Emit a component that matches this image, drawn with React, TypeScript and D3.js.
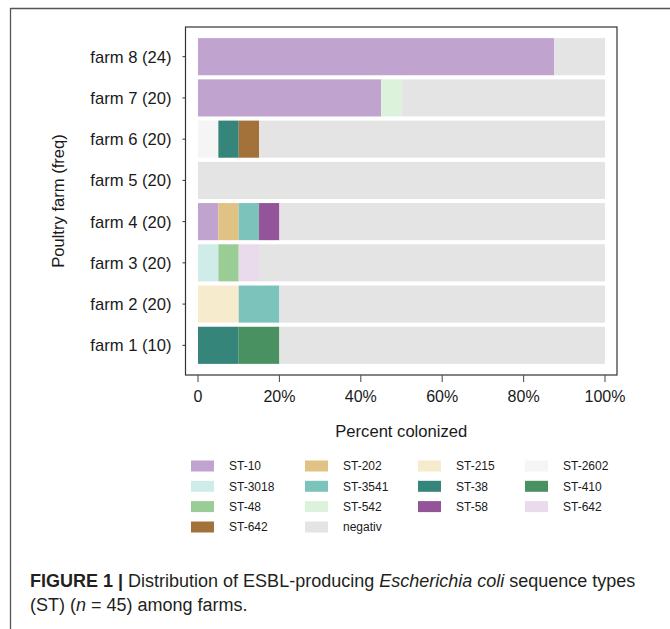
import React from "react";
import * as d3 from "d3";

const farms = ["farm 1 (10)", "farm 2 (20)", "farm 3 (20)", "farm 4 (20)", "farm 5 (20)", "farm 6 (20)", "farm 7 (20)", "farm 8 (24)"];
const seriesKeys = ["ST-10", "ST-202", "ST-215", "ST-2602", "ST-3018", "ST-3541", "ST-38", "ST-410", "ST-48", "ST-542", "ST-58", "ST-642a", "ST-642b", "negativ"];
const seriesLabels = ["ST-10", "ST-202", "ST-215", "ST-2602", "ST-3018", "ST-3541", "ST-38", "ST-410", "ST-48", "ST-542", "ST-58", "ST-642", "ST-642", "negativ"];
const seriesColors = ["#c0a3cf", "#e0c285", "#f7ebcd", "#f5f5f5", "#d0ece8", "#7cc4bb", "#35857a", "#4a9161", "#9acd95", "#ddf2da", "#93549a", "#e9dbeb", "#a3723a", "#e4e4e4"];

// percent per farm (farm 1 .. farm 8)
const st10 = [0, 0, 0, 5, 0, 0, 45, 87.5];
const st202 = [0, 0, 0, 5, 0, 0, 0, 0];
const st215 = [0, 10, 0, 0, 0, 0, 0, 0];
const st2602 = [0, 0, 0, 0, 0, 5, 0, 0];
const st3018 = [0, 0, 5, 0, 0, 0, 0, 0];
const st3541 = [0, 10, 0, 5, 0, 0, 0, 0];
const st38 = [10, 0, 0, 0, 0, 5, 0, 0];
const st410 = [10, 0, 0, 0, 0, 0, 0, 0];
const st48 = [0, 0, 5, 0, 0, 0, 0, 0];
const st542 = [0, 0, 0, 0, 0, 0, 5, 0];
const st58 = [0, 0, 0, 5, 0, 0, 0, 0];
const st642a = [0, 0, 5, 0, 0, 0, 0, 0];
const st642b = [0, 0, 0, 0, 0, 5, 0, 0];
const negativ = [80, 80, 85, 80, 100, 85, 50, 12.5];

const xTicks = [0, 20, 40, 60, 80, 100];
const xTickLabels = ["0", "20%", "40%", "60%", "80%", "100%"];

const seriesValues = [st10, st202, st215, st2602, st3018, st3541, st38, st410, st48, st542, st58, st642a, st642b, negativ];

const FONT = "'Liberation Sans', Arial, Helvetica, sans-serif";

export default function App() {
  const rows = farms.map((f, i) => {
    const r: any = { farm: f };
    seriesKeys.forEach((k, j) => (r[k] = seriesValues[j][i]));
    return r;
  });
  const stacked = d3.stack().keys(seriesKeys)(rows);

  const panel = { left: 185.5, right: 617, top: 27, bottom: 375 };
  const x = d3.scaleLinear().domain([0, 100]).range([198, 605]);
  const y = d3
    .scaleBand()
    .domain([...farms].reverse())
    .range([panel.top, panel.bottom])
    .paddingInner(0.1)
    .paddingOuter(0.27);

  const legendColX = [191, 305, 418, 525];
  const legendRowY = [466, 486.3, 506.6, 527];

  return (
    <div style={{ position: "absolute", left: 0, top: 0 }}>
      <svg width={670} height={629} style={{ display: "block", background: "#fff" }} fontFamily={FONT}>
        {/* outer frame */}
        <line x1={10.5} x2={670} y1={8.5} y2={8.5} stroke="#555" strokeWidth={1.3} />
        <line x1={10.5} x2={10.5} y1={8} y2={629} stroke="#555" strokeWidth={1.3} />

        {/* bars */}
        {stacked.map((s, si) => (
          <g key={s.key}>
            {s.map((d: any, i: number) =>
              d[1] - d[0] > 0 ? (
                <rect
                  key={i}
                  x={x(d[0])}
                  width={x(d[1]) - x(d[0])}
                  y={y(d.data.farm)}
                  height={y.bandwidth()}
                  fill={seriesColors[si]}
                />
              ) : null
            )}
          </g>
        ))}

        {/* panel border */}
        <rect
          x={panel.left}
          y={panel.top}
          width={panel.right - panel.left}
          height={panel.bottom - panel.top}
          fill="none"
          stroke="#333"
          strokeWidth={1.2}
        />

        {/* y axis */}
        {farms.map((f) => {
          const cy = (y(f) as number) + y.bandwidth() / 2;
          return (
            <g key={f}>
              <line x1={panel.left - 3} x2={panel.left} y1={cy} y2={cy} stroke="#333" strokeWidth={1} />
              <text x={171.5} y={cy} dy="0.36em" textAnchor="end" fontSize={16.6} fill="#1a1a1a">
                {f}
              </text>
            </g>
          );
        })}
        <text
          transform={`translate(64,${(panel.top + panel.bottom) / 2}) rotate(-90)`}
          textAnchor="middle"
          fontSize={16.6}
          fill="#1a1a1a"
        >
          Poultry farm (freq)
        </text>

        {/* x axis */}
        {xTicks.map((t, i) => (
          <g key={t}>
            <line x1={x(t)} x2={x(t)} y1={panel.bottom} y2={panel.bottom + 7} stroke="#555" strokeWidth={1.1} />
            <text x={x(t)} y={401.5} textAnchor="middle" fontSize={16} fill="#1a1a1a">
              {xTickLabels[i]}
            </text>
          </g>
        ))}
        <text x={(panel.left + panel.right) / 2} y={437} textAnchor="middle" fontSize={16.6} fill="#1a1a1a">
          Percent colonized
        </text>

        {/* legend */}
        {seriesKeys.map((k, i) => {
          const col = i % 4;
          const row = Math.floor(i / 4);
          const lx = legendColX[col];
          const ly = legendRowY[row];
          return (
            <g key={k}>
              <rect x={lx} y={ly - 5.5} width={23} height={11} fill={seriesColors[i]} />
              <text x={lx + 38} y={ly} dy="0.36em" fontSize={12} fill="#1a1a1a">
                {seriesLabels[i]}
              </text>
            </g>
          );
        })}

        {/* caption */}
        <text x={30} y={587} fontSize={18} fill="#231f20">
          <tspan fontWeight="bold">FIGURE 1 | </tspan>
          <tspan>Distribution of ESBL-producing </tspan>
          <tspan fontStyle="italic">Escherichia coli</tspan>
          <tspan> sequence types</tspan>
        </text>
        <text x={30} y={611} fontSize={18} fill="#231f20">
          <tspan>(ST) (</tspan>
          <tspan fontStyle="italic">n</tspan>
          <tspan> = 45) among farms.</tspan>
        </text>
      </svg>
    </div>
  );
}
